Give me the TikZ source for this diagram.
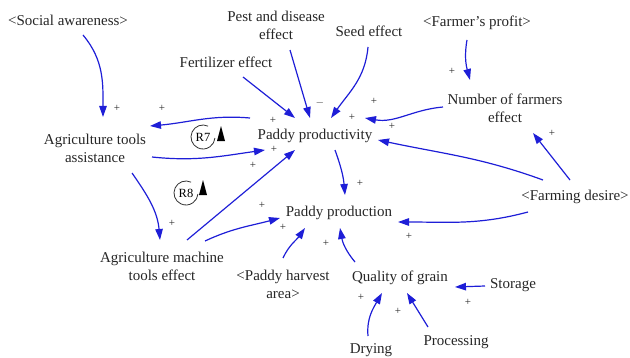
\documentclass[tikz,border=0pt]{standalone}
\usepackage{fontspec}
\setmainfont{Liberation Serif}
\usetikzlibrary{arrows.meta,calc}
\definecolor{linkblue}{RGB}{30,30,215}
\begin{document}
\begin{tikzpicture}[x=1pt,y=1pt,
 txt/.style={font=\fontsize{15}{18}\selectfont, align=center, inner sep=0pt, text=black!85},
 link/.style={draw=linkblue, line width=1.2pt, -{Triangle[length=11pt,width=7.5pt]}},
 pol/.style={font=\fontsize{11}{11}\selectfont, inner sep=0pt, text=black!85},
 looplbl/.style={font=\fontsize{12.5}{12.5}\selectfont, inner sep=0pt},
 loopring/.style={draw=black!80, line width=0.8pt}
]
\useasboundingbox (0,0) rectangle (630,357);
% variables
\node[txt] (soc)   at (68,337)  {<Social awareness>};
\node[txt] (pest)  at (276,332) {Pest and disease\\effect};
\node[txt] (seed)  at (369,326) {Seed effect};
\node[txt] (farmp) at (477,334) {<Farmer's profit>};
\node[txt] (fert)  at (226,295) {Fertilizer effect};
\node[txt] (nfe)   at (505,249) {Number of farmers\\effect};
\node[txt] (ata)   at (95,209)  {Agriculture tools\\assistance};
\node[txt] (pp)    at (315,221) {Paddy productivity};
\node[txt] (pprod) at (339,144) {Paddy production};
\node[txt] (fd)    at (575,160) {<Farming desire>};
\node[txt] (amte)  at (162,91)  {Agriculture machine\\tools effect};
\node[txt] (pha)   at (283,73)  {<Paddy harvest\\area>};
\node[txt] (qog)   at (400,79)  {Quality of grain};
\node[txt] (stor)  at (513,72)  {Storage};
\node[txt] (proc)  at (456,15)  {Processing};
\node[txt] (dry)   at (371,7)   {Drying};
% loops
\node[looplbl] (r7) at (203,220) {R7};
\node[looplbl] (r8) at (186,164) {R8};
\draw[loopring] (r7.center) ++(65:12) arc (65:355:12);
\draw[loopring] (r8.center) ++(65:12) arc (65:355:12);
\fill[black] ($(r7.center)+(14,-4)$) -- ++(8,0) -- ++(-4,15) -- cycle;
\fill[black] ($(r8.center)+(13,-2)$) -- ++(8,0) -- ++(-4,15) -- cycle;
% links
\draw[link] ($(soc)+(15,-15)$) to[out=-50,in=90] ($(ata)+(8,31)$);
\draw[link] ($(pp)+(-65,18)$) to[out=175,in=5] ($(ata)+(55,22)$);
\draw[link] ($(ata)+(57,-9)$) to[out=-6,in=188] ($(pp)+(-50,-14)$);
\draw[link] ($(fert)+(17,-15)$) -- ($(pp)+(-20,18)$);
\draw[link] ($(pest)+(14,-25)$) -- ($(pp)+(-5,18)$);
\draw[link] ($(seed)+(-1,-16)$) to[out=-95,in=55] ($(pp)+(16,18)$);
\draw[link] ($(nfe)+(-62,1)$) to[out=185,in=-10] ($(pp)+(50,18)$);
\draw[link] ($(farmp)+(-10,-17)$) to[out=-100,in=105] ($(nfe)+(-35,28)$);
\draw[link] ($(fd)+(-32,17)$) to[out=160,in=-12] ($(pp)+(63,-4)$);
\draw[link] ($(fd)+(-5,17)$) -- ($(nfe)+(28,-25)$);
\draw[link] ($(pp)+(20,-14)$) to[out=-70,in=95] ($(pprod)+(6,18)$);
\draw[link] ($(fd)+(-47,-15)$) to[out=195,in=0] ($(pprod)+(59,-9)$);
\draw[link] ($(qog)+(-45,16)$) to[out=130,in=-80] ($(pprod)+(1,-15)$);
\draw[link] ($(pha)+(0,26)$) to[out=65,in=-125] ($(pprod)+(-34,-15)$);
\draw[link] ($(amte)+(43,25)$) to[out=25,in=195] ($(pprod)+(-59,-5)$);
\draw[link] ($(amte)+(25,26)$) -- ($(pp)+(-20,-14)$);
\draw[link] ($(ata)+(37,-25)$) to[out=-55,in=95] ($(amte)+(-2,26)$);
\draw[link] ($(stor)+(-28,-1)$) -- ($(qog)+(55,-9)$);
\draw[link] ($(dry)+(-3,14)$) to[out=95,in=-120] ($(qog)+(-18,-15)$);
\draw[link] ($(proc)+(-28,15)$) -- ($(qog)+(7,-15)$);
% polarities
\node[pol] (p1) at (117,249) {+};
\node[pol] (p2) at (162,249) {+};
\node[pol] (p3) at (273,237) {+};
\node[pol] (p4) at (274,208) {+};
\node[pol] (p5) at (320,254) {$-$};
\node[pol] (p6) at (352,240) {+};
\node[pol] (p7) at (374,256) {+};
\node[pol] (p8) at (452,286) {+};
\node[pol] (p9) at (392,231) {+};
\node[pol] (p10) at (552,224) {+};
\node[pol] (p11) at (360,174) {+};
\node[pol] (p12) at (409,121) {+};
\node[pol] (p13) at (326,114) {+};
\node[pol] (p14) at (283,130) {+};
\node[pol] (p15) at (262,152) {+};
\node[pol] (p16) at (253,192) {+};
\node[pol] (p17) at (172,134) {+};
\node[pol] (p18) at (468,55) {+};
\node[pol] (p19) at (361,60) {+};
\node[pol] (p20) at (398,46) {+};
\end{tikzpicture}
\end{document}
